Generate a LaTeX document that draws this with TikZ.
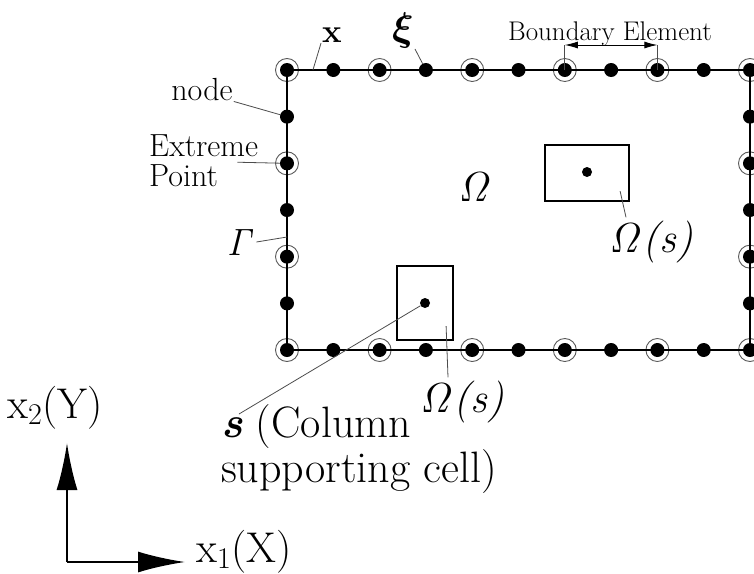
\RequirePackage{fix-cm}
\documentclass[tikz,border=0pt]{standalone}
\usepackage{amsmath,bm}
\usetikzlibrary{arrows.meta, positioning, calc}

\begin{document}
\begin{tikzpicture}[x=1pt, y=-1pt,
  bnode/.style={circle, fill=black, inner sep=0pt, minimum size=14pt},
  ring/.style={circle, draw=black!65, line width=0.9pt, inner sep=0pt, minimum size=23pt},
  boundary/.style={line width=2.6pt},
  cell/.style={rectangle, draw=black, line width=2.2pt, inner sep=0pt},
  sdot/.style={circle, fill=black, inner sep=0pt, minimum size=10pt},
  leader/.style={draw=black!70, line width=0.8pt},
  lbl/.style={inner sep=1pt, font=\fontsize{32}{30}\selectfont},
  biglbl/.style={inner sep=1pt, font=\fontsize{43}{40}\selectfont},
  axis/.style={-{Latex[length=47pt,width=21pt]}, line width=2pt},
  dimarrow/.style={{Latex[length=13pt,width=7pt]}-{Latex[length=13pt,width=7pt]}, line width=0.9pt}
]
\useasboundingbox (0,0) rectangle (754,573);

% boundary nodes
\foreach \i in {0,...,10} {
  \node[bnode] (t\i) at ({287+46.3*\i},70) {};
  \node[bnode] (b\i) at ({287+46.3*\i},350) {};
}
\foreach \j in {1,...,5} {
  \node[bnode] (l\j) at (287,{70+46.67*\j}) {};
  \node[bnode] (r\j) at (750,{70+46.67*\j}) {};
}
% extreme points
\foreach \i in {0,2,...,10} {
  \node[ring] at (t\i) {};
  \node[ring] at (b\i) {};
}
\foreach \j in {2,4} {
  \node[ring] at (l\j) {};
  \node[ring] at (r\j) {};
}
\draw[boundary] (t0.center) -- (t10.center) -- (b10.center) -- (b0.center) -- cycle;

% column supporting cells
\node[cell, minimum width=84pt, minimum height=56pt] (cellA) at (587,173) {};
\node[sdot] (sA) at (587,172) {};
\node[cell, minimum width=56pt, minimum height=74pt] (cellB) at (425,303) {};
\node[sdot] (sB) at (425,303) {};

% labels
\node[lbl, font=\fontsize{33}{34}\selectfont\bfseries, anchor=base] (xlab) at (332,42) {x};
\node[lbl, font=\fontsize{40}{40}\selectfont, anchor=base] (xilab) at (403,40) {$\bm{\xi}$};
\node[lbl, anchor=base] (nodelab) at (202,100) {node};
\node[lbl, align=left, anchor=north west] (extlab) at (148,134) {Extreme\\Point};
\node[lbl, font=\fontsize{38}{40}\selectfont, anchor=base] (gamlab) at (241,255) {$\mathit{\Gamma}$};
\node[lbl, font=\fontsize{42}{44}\selectfont, anchor=base] (omlab) at (475,201) {$\mathit{\Omega}$};
\node[biglbl, font=\fontsize{42}{44}\selectfont, anchor=base] (omAlab) at (651,252) {$\mathit{\Omega}$\textit{(s)}};
\node[biglbl, font=\fontsize{42}{44}\selectfont, anchor=base] (omBlab) at (462,412) {$\mathit{\Omega}$\textit{(s)}};
\node[biglbl, font=\fontsize{44}{40}\selectfont, align=left, anchor=north west] (slab) at (220,403) {\textbf{\textit{s}} (Column\\supporting cell)};
\node[inner sep=1pt, font=\fontsize{27}{28}\selectfont, anchor=base] (belab) at (610,40) {Boundary Element};

% leaders
\coordinate (xpt) at ($(t0)!0.56!(t1)$);
\coordinate (gpt) at (287,237);
\draw[leader] (xlab.south west) -- (xpt);
\draw[leader] (xilab.south east) -- (t3);
\draw[leader] (nodelab.south east) -- (l1);
\draw[leader] ($(extlab.east)+(-22,1)$) -- (l2);
\draw[leader] (gamlab.east) -- (gpt);
\draw[leader] ($(cellA.south east)+(-10,-11)$) -- ($(omAlab.north)+(-25,-2)$);
\draw[leader] ($(cellB.south east)+(-8,-15)$) -- ($(omBlab.north)+(-14,-2)$);
\draw[leader] (sB) -- ($(slab.north west)+(19,11)$);

% boundary element dimension
\coordinate (da) at ($(t6)+(0,-25)$);
\coordinate (db) at ($(t8)+(0,-25)$);
\draw[leader] (t6.center) -- (da);
\draw[leader] (t8.center) -- (db);
\draw[dimarrow] (da) -- (db);

% axes
\coordinate (org) at (67,562);
\coordinate (xend) at (185,562);
\coordinate (yend) at (67,443);
\draw[axis] (org) -- (xend);
\draw[axis] (org) -- (yend);
\node[biglbl, anchor=base west] (x1lab) at (195,562) {x$_1$(X)};
\node[biglbl, anchor=base west] (x2lab) at (6,418) {x$_2$(Y)};
\end{tikzpicture}
\end{document}
